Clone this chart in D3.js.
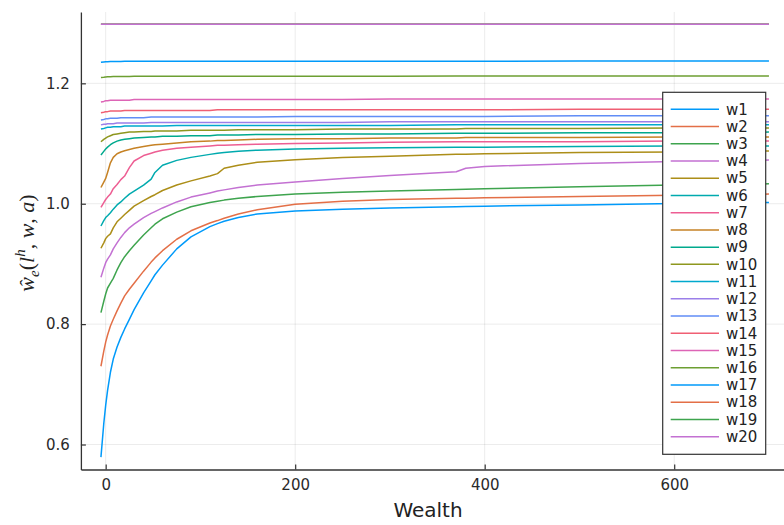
<!DOCTYPE html>
<html><head><meta charset="utf-8">
<script src="https://cdn.jsdelivr.net/npm/d3@7"></script>
<style>body{margin:0;background:#fff}svg{display:block}</style>
</head><body>
<svg id="chart" width="784" height="525"></svg>
<script>
// ---- data ----
const wealth = [-5,-2,0,2,5,8,12,16,20,25,30,40,48,52,60,75,90,110,118,125,140,160,200,250,300,370,380,400,500,600,700];
const w1  = [0.579,0.635,0.665,0.690,0.720,0.742,0.762,0.778,0.792,0.808,0.824,0.852,0.872,0.882,0.898,0.925,0.945,0.962,0.967,0.971,0.977,0.983,0.988,0.991,0.993,0.995,0.9953,0.996,0.998,1.0005,1.002];
const w2  = [0.730,0.755,0.770,0.782,0.797,0.808,0.822,0.835,0.847,0.858,0.868,0.888,0.903,0.910,0.922,0.941,0.955,0.968,0.972,0.976,0.983,0.990,0.999,1.004,1.007,1.009,1.0093,1.010,1.012,1.014,1.016];
const w3  = [0.819,0.838,0.850,0.860,0.868,0.876,0.890,0.902,0.912,0.922,0.931,0.948,0.960,0.966,0.975,0.986,0.995,1.002,1.004,1.006,1.009,1.012,1.016,1.019,1.021,1.0235,1.024,1.025,1.028,1.031,1.033];
const w4  = [0.878,0.893,0.902,0.908,0.915,0.925,0.935,0.944,0.952,0.960,0.966,0.977,0.984,0.987,0.993,1.003,1.011,1.018,1.021,1.023,1.027,1.031,1.036,1.042,1.047,1.053,1.059,1.062,1.067,1.070,1.0725];
const w5  = [0.926,0.935,0.942,0.946,0.950,0.960,0.970,0.976,0.982,0.989,0.996,1.005,1.012,1.015,1.022,1.031,1.038,1.046,1.050,1.059,1.064,1.069,1.073,1.077,1.079,1.082,1.082,1.083,1.085,1.086,1.0875];
const w6  = [0.963,0.972,0.977,0.980,0.985,0.991,0.998,1.003,1.009,1.016,1.021,1.031,1.041,1.052,1.064,1.072,1.077,1.082,1.084,1.085,1.087,1.089,1.091,1.092,1.093,1.094,1.094,1.094,1.095,1.096,1.096];
const w7  = [0.994,1.002,1.007,1.011,1.016,1.025,1.032,1.040,1.046,1.060,1.071,1.080,1.084,1.086,1.089,1.092,1.094,1.096,1.097,1.097,1.098,1.099,1.100,1.101,1.102,1.103,1.103,1.103,1.103,1.104,1.104];
const w8  = [1.027,1.036,1.042,1.052,1.068,1.077,1.083,1.086,1.088,1.090,1.092,1.095,1.097,1.098,1.099,1.101,1.103,1.104,1.105,1.105,1.106,1.107,1.108,1.108,1.109,1.109,1.110,1.110,1.110,1.111,1.111];
const w9  = [1.081,1.087,1.091,1.094,1.098,1.101,1.104,1.106,1.107,1.108,1.109,1.110,1.111,1.111,1.112,1.112,1.113,1.113,1.114,1.114,1.114,1.115,1.115,1.116,1.116,1.117,1.117,1.117,1.118,1.118,1.119];
const w10 = [1.103,1.107,1.109,1.111,1.113,1.115,1.116,1.117,1.118,1.119,1.119,1.120,1.120,1.121,1.121,1.121,1.122,1.122,1.122,1.122,1.123,1.123,1.123,1.124,1.124,1.124,1.125,1.125,1.125,1.126,1.126];
const w11 = [1.124,1.125,1.126,1.127,1.127,1.128,1.128,1.128,1.129,1.129,1.129,1.129,1.129,1.129,1.129,1.130,1.130,1.130,1.130,1.130,1.130,1.130,1.130,1.130,1.130,1.131,1.131,1.131,1.131,1.131,1.131];
const w12 = [1.131,1.132,1.132,1.133,1.133,1.133,1.134,1.134,1.134,1.134,1.134,1.134,1.135,1.135,1.135,1.135,1.135,1.135,1.135,1.135,1.135,1.135,1.135,1.135,1.136,1.136,1.136,1.136,1.136,1.136,1.136];
const w13 = [1.139,1.140,1.141,1.141,1.142,1.142,1.142,1.143,1.143,1.143,1.143,1.143,1.144,1.144,1.144,1.144,1.144,1.144,1.144,1.144,1.144,1.144,1.145,1.145,1.145,1.145,1.145,1.145,1.146,1.146,1.146];
const w14 = [1.151,1.152,1.153,1.153,1.154,1.154,1.154,1.154,1.155,1.155,1.155,1.155,1.155,1.155,1.155,1.155,1.155,1.155,1.156,1.156,1.156,1.156,1.156,1.156,1.156,1.156,1.156,1.156,1.157,1.157,1.157];
const w15 = [1.169,1.170,1.171,1.171,1.172,1.172,1.172,1.172,1.172,1.172,1.173,1.173,1.173,1.173,1.173,1.173,1.173,1.173,1.173,1.173,1.173,1.173,1.173,1.173,1.174,1.174,1.174,1.174,1.174,1.174,1.174];
const w16 = [1.2095,1.2100,1.2105,1.2108,1.2110,1.2112,1.2113,1.2114,1.2115,1.2115,1.2116,1.2116,1.2116,1.2117,1.2117,1.2117,1.2117,1.2118,1.2118,1.2118,1.2118,1.2118,1.2119,1.2119,1.2119,1.2120,1.2120,1.2120,1.2120,1.2121,1.2121];
const w17 = [1.2350,1.2355,1.2358,1.2360,1.2362,1.2363,1.2364,1.2364,1.2365,1.2365,1.2365,1.2366,1.2366,1.2366,1.2366,1.2366,1.2367,1.2367,1.2367,1.2367,1.2367,1.2367,1.2368,1.2368,1.2368,1.2368,1.2368,1.2368,1.2369,1.2369,1.2370];
const w18 = [1.298,1.298,1.298,1.298,1.298,1.298,1.298,1.298,1.298,1.298,1.298,1.298,1.298,1.298,1.298,1.298,1.298,1.298,1.298,1.298,1.298,1.298,1.298,1.298,1.298,1.298,1.298,1.298,1.298,1.298,1.298];
const w19 = [1.298,1.298,1.298,1.298,1.298,1.298,1.298,1.298,1.298,1.298,1.298,1.298,1.298,1.298,1.298,1.298,1.298,1.298,1.298,1.298,1.298,1.298,1.298,1.298,1.298,1.298,1.298,1.298,1.298,1.298,1.298];
const w20 = [1.298,1.298,1.298,1.298,1.298,1.298,1.298,1.298,1.298,1.298,1.298,1.298,1.298,1.298,1.298,1.298,1.298,1.298,1.298,1.298,1.298,1.298,1.298,1.298,1.298,1.298,1.298,1.298,1.298,1.298,1.298];

const seriesNames = ["w1","w2","w3","w4","w5","w6","w7","w8","w9","w10","w11","w12","w13","w14","w15","w16","w17","w18","w19","w20"];
const seriesValues = [w1,w2,w3,w4,w5,w6,w7,w8,w9,w10,w11,w12,w13,w14,w15,w16,w17,w18,w19,w20];
const palette = ["#009AFA","#E36F47","#3EA44E","#C371D2","#AC8E18","#00AAAE","#ED5E93","#C68225","#00A98D","#8E971E","#00A9CD","#9B7FE9","#618DF6","#F05F73","#DD65B6","#6D9F32"];
const xTicks = [0,200,400,600];
const yTicks = [0.6,0.8,1.0,1.2];
const xLabel = "Wealth";

// ---- layout ----
const svg = d3.select("#chart");
const pLeft = 80.9, pRight = 789, pTop = 12, pBottom = 469.5;
const x = d3.scaleLinear().domain([-26.15, 721.15]).range([pLeft, pRight]);
const y = d3.scaleLinear().domain([0.5585, 1.3185]).range([pBottom, pTop]);
const font = "'DejaVu Sans', sans-serif";

// grid
const grid = svg.append("g").attr("stroke", "#000").attr("stroke-opacity", 0.1).attr("stroke-width", 0.8);
grid.selectAll(".gx").data(xTicks).join("line")
  .attr("x1", d => x(d)).attr("x2", d => x(d)).attr("y1", pTop).attr("y2", pBottom);
grid.selectAll(".gy").data(yTicks).join("line")
  .attr("y1", d => y(d)).attr("y2", d => y(d)).attr("x1", pLeft).attr("x2", pRight);

// series
const line = d3.line().x((d, i) => x(wealth[i])).y(d => y(d));
svg.append("g").selectAll("path").data(seriesValues).join("path")
  .attr("d", d => line(d))
  .attr("fill", "none")
  .attr("stroke", (d, i) => palette[i % palette.length])
  .attr("stroke-width", 1.5)
  .attr("stroke-linejoin", "round");

// axes
const ax = svg.append("g").attr("transform", `translate(0,${pBottom})`)
  .call(d3.axisBottom(x).tickValues(xTicks).tickFormat(d3.format("d")).tickSize(-5).tickSizeOuter(0).tickPadding(10));
const ay = svg.append("g").attr("transform", `translate(${pLeft},0)`)
  .call(d3.axisLeft(y).tickValues(yTicks).tickFormat(d3.format(".1f")).tickSize(-5).tickSizeOuter(0).tickPadding(11));
[ax, ay].forEach(g => {
  g.select(".domain").attr("stroke", "#333").attr("stroke-width", 1.3);
  g.selectAll(".tick line").attr("stroke", "#333").attr("stroke-width", 1.2);
  g.selectAll(".tick text").attr("font-family", font).attr("font-size", 15).attr("fill", "#2a2a2a");
});

// axis titles
svg.append("text").attr("x", 428).attr("y", 517).attr("text-anchor", "middle")
  .attr("font-family", font).attr("font-size", 20).attr("fill", "#222").text(xLabel);

const yl = svg.append("text").attr("transform", "translate(34,243) rotate(-90)")
  .attr("text-anchor", "middle").attr("font-family", "'Liberation Serif', 'DejaVu Serif', serif")
  .attr("font-size", 22).attr("fill", "#222");
yl.append("tspan").attr("font-style", "italic").text("ŵ");
yl.append("tspan").attr("font-style", "italic").attr("font-size", 15).attr("dy", 5).text("e");
yl.append("tspan").attr("dy", -5).text("(");
yl.append("tspan").attr("font-style", "italic").text("l");
yl.append("tspan").attr("font-style", "italic").attr("font-size", 15).attr("dy", -9).text("h");
yl.append("tspan").attr("dy", 9).text(", ");
yl.append("tspan").attr("font-style", "italic").text("w");
yl.append("tspan").text(", ");
yl.append("tspan").attr("font-style", "italic").text("a");
yl.append("tspan").text(")");

// legend
const lg = svg.append("g");
lg.append("rect").attr("x", 662.7).attr("y", 92.3).attr("width", 103).attr("height", 362)
  .attr("fill", "#fff").attr("stroke", "#333").attr("stroke-width", 1.2);
const items = lg.selectAll(".it").data(seriesNames).join("g")
  .attr("transform", (d, i) => `translate(0,${109.3 + i * 17.23})`);
items.append("line").attr("x1", 670.7).attr("x2", 719).attr("y1", 0).attr("y2", 0)
  .attr("stroke", (d, i) => palette[i % palette.length]).attr("stroke-width", 1.5);
items.append("text").attr("x", 726).attr("y", 0).attr("dy", "0.35em")
  .attr("font-family", font).attr("font-size", 15).attr("fill", "#222").text(d => d);
</script>
</body></html>
